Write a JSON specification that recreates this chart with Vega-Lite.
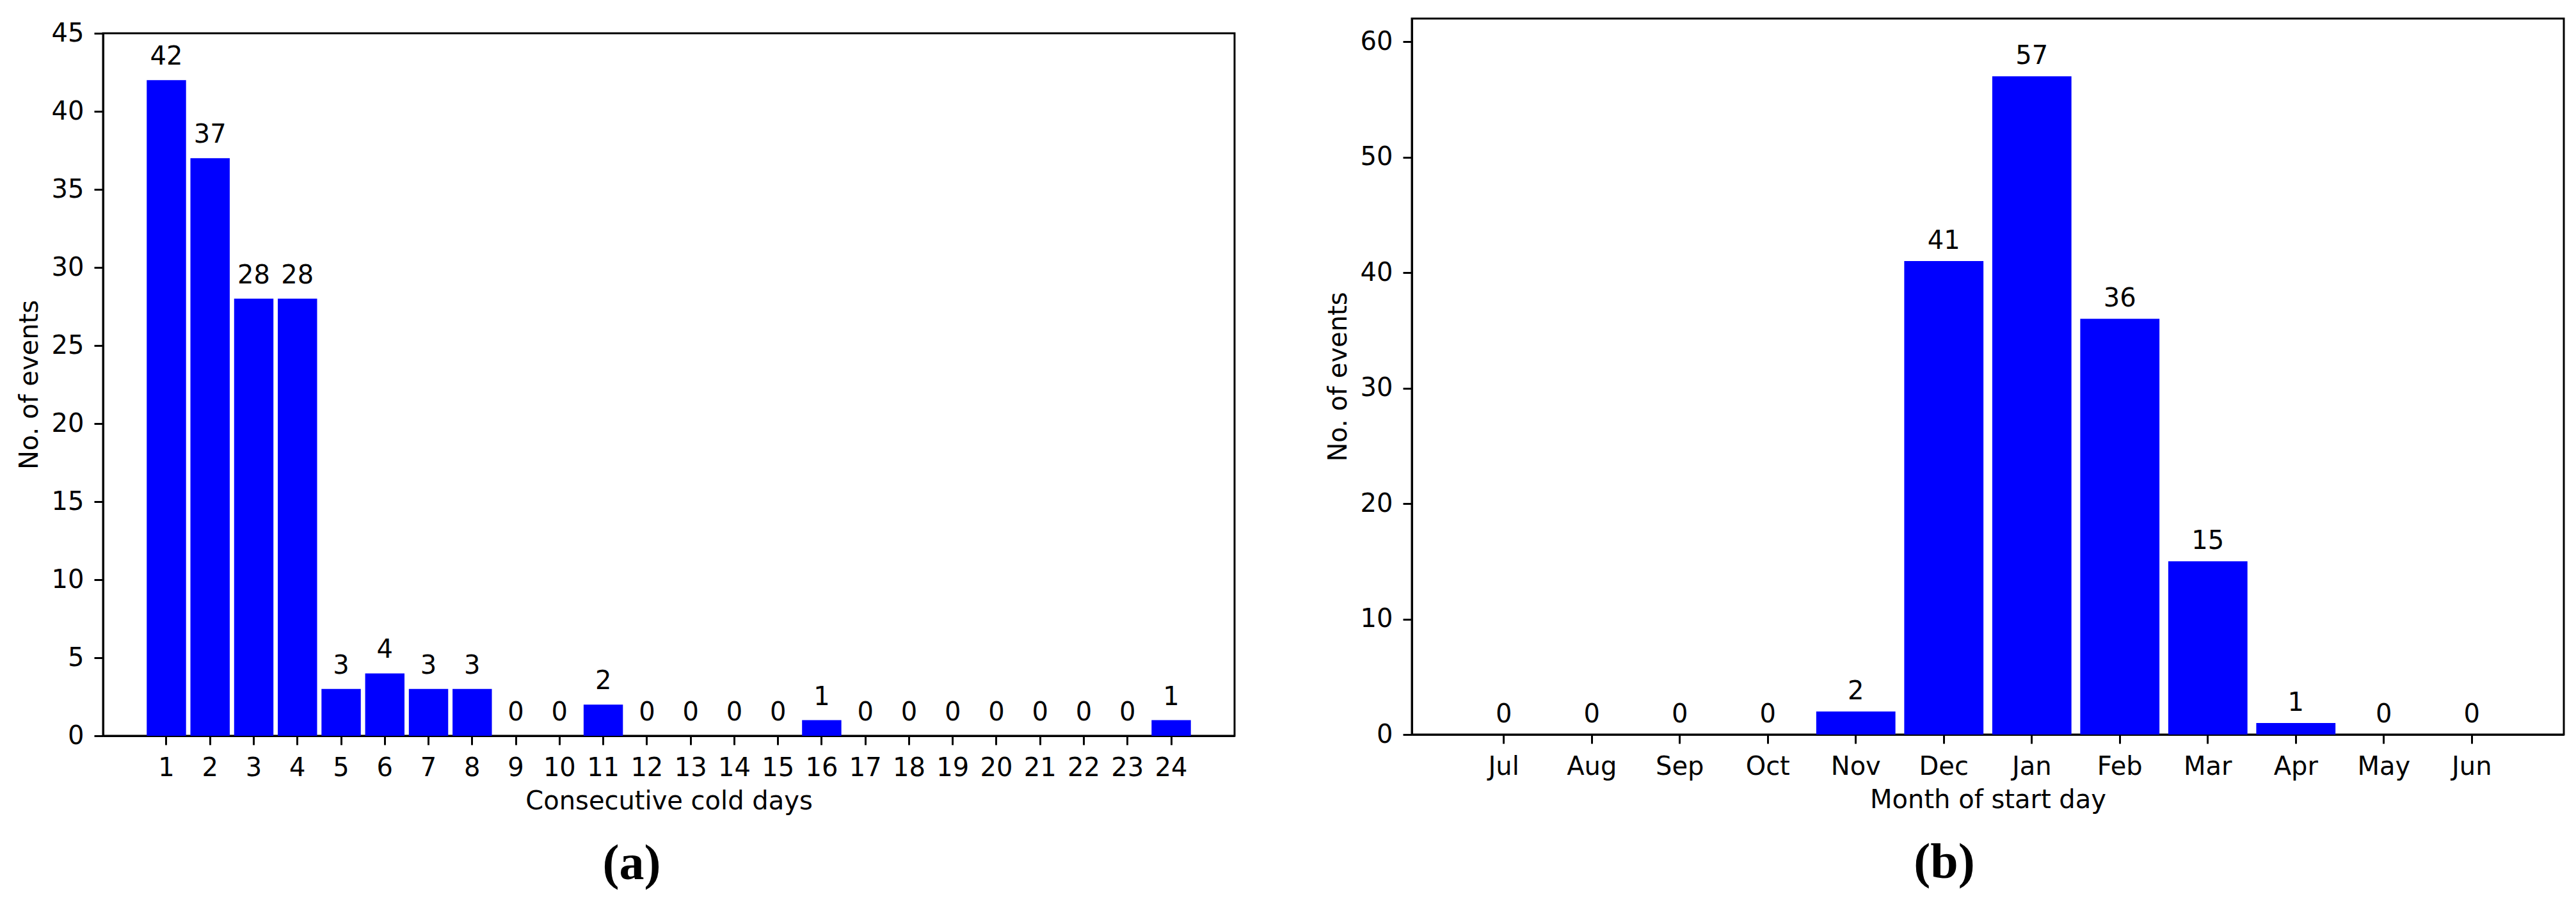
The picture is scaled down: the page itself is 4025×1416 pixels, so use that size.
{
  "$schema": "https://vega.github.io/schema/vega-lite/v6.json",
  "background": "white",
  "padding": {"left": 24, "top": 27, "right": 10, "bottom": 10},
  "bounds": "full",
  "spacing": 138,
  "config": {
    "font": "DejaVu Sans",
    "view": {"stroke": "black", "strokeWidth": 3},
    "axis": {
      "labelFont": "DejaVu Sans", "labelFontSize": 40, "labelColor": "black",
      "titleFont": "DejaVu Sans", "titleFontSize": 40, "titleFontWeight": "normal", "titleColor": "black",
      "tickColor": "black", "tickWidth": 3, "tickSize": 14,
      "domain": true, "domainColor": "black", "domainWidth": 3,
      "grid": false, "labelPadding": 16, "zindex": 1, "labelOverlap": false
    }
  },
  "hconcat": [
    {
      "vconcat": [
        {
          "width": 1768, "height": 23,
          "data": {"values": [{}]},
          "mark": {"type": "point", "opacity": 0},
          "view": {"stroke": null}
        },
        {
          "width": 1768, "height": 1098,
          "data": {"values": [
            {"days": 1, "count": 42}, {"days": 2, "count": 37}, {"days": 3, "count": 28}, {"days": 4, "count": 28},
            {"days": 5, "count": 3}, {"days": 6, "count": 4}, {"days": 7, "count": 3}, {"days": 8, "count": 3},
            {"days": 9, "count": 0}, {"days": 10, "count": 0}, {"days": 11, "count": 2}, {"days": 12, "count": 0},
            {"days": 13, "count": 0}, {"days": 14, "count": 0}, {"days": 15, "count": 0}, {"days": 16, "count": 1},
            {"days": 17, "count": 0}, {"days": 18, "count": 0}, {"days": 19, "count": 0}, {"days": 20, "count": 0},
            {"days": 21, "count": 0}, {"days": 22, "count": 0}, {"days": 23, "count": 0}, {"days": 24, "count": 1}
          ]},
          "title": {"text": "(a)", "orient": "bottom", "font": "Liberation Serif", "fontSize": 78, "fontWeight": "bold", "offset": 40, "anchor": "middle", "dx": -58, "color": "black"},
          "encoding": {
            "x": {"field": "days", "type": "ordinal", "sort": null,
                  "scale": {"paddingInner": 0.1, "paddingOuter": 1.195},
                  "axis": {"title": "Consecutive cold days", "labelAngle": 0, "titlePadding": 12}},
            "y": {"field": "count", "type": "quantitative",
                  "scale": {"domain": [0, 45], "nice": false, "zero": true},
                  "axis": {"values": [0, 5, 10, 15, 20, 25, 30, 35, 40, 45], "title": "No. of events", "titlePadding": 14}}
          },
          "layer": [
            {"mark": {"type": "bar", "color": "#0000ff"}},
            {"mark": {"type": "text", "dy": -24, "baseline": "alphabetic", "align": "center", "fontSize": 40, "font": "DejaVu Sans", "color": "black"},
             "encoding": {"text": {"field": "count", "type": "quantitative"}}}
          ]
        }
      ],
      "spacing": 0,
      "bounds": "flush"
    },
    {
      "width": 1800, "height": 1119,
      "data": {"values": [
        {"month": "Jul", "count": 0}, {"month": "Aug", "count": 0}, {"month": "Sep", "count": 0}, {"month": "Oct", "count": 0},
        {"month": "Nov", "count": 2}, {"month": "Dec", "count": 41}, {"month": "Jan", "count": 57}, {"month": "Feb", "count": 36},
        {"month": "Mar", "count": 15}, {"month": "Apr", "count": 1}, {"month": "May", "count": 0}, {"month": "Jun", "count": 0}
      ]},
      "title": {"text": "(b)", "orient": "bottom", "font": "Liberation Serif", "fontSize": 78, "fontWeight": "bold", "offset": 40, "anchor": "middle", "dx": -68, "color": "black"},
      "encoding": {
        "x": {"field": "month", "type": "ordinal", "sort": null,
              "scale": {"paddingInner": 0.1, "paddingOuter": 0.595},
              "axis": {"title": "Month of start day", "labelAngle": 0, "titlePadding": 12}},
        "y": {"field": "count", "type": "quantitative",
              "scale": {"domain": [0, 62], "nice": false, "zero": true},
              "axis": {"values": [0, 10, 20, 30, 40, 50, 60], "title": "No. of events", "titlePadding": 14}}
      },
      "layer": [
        {"mark": {"type": "bar", "color": "#0000ff"}},
        {"mark": {"type": "text", "dy": -19, "baseline": "alphabetic", "align": "center", "fontSize": 40, "font": "DejaVu Sans", "color": "black"},
         "encoding": {"text": {"field": "count", "type": "quantitative"}}}
      ]
    }
  ]
}
